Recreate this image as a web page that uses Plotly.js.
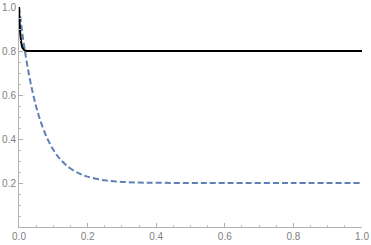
<!DOCTYPE html>
<html><head><meta charset="utf-8">
<script src="https://cdn.plot.ly/plotly-3.0.1.min.js"></script>
<style>body{margin:0;padding:0;background:#fff}#chart{width:371px;height:245px}</style>
</head><body><div id="chart"></div>
<script>
const blueX = [0, 0.01, 0.02, 0.03, 0.04, 0.05, 0.06, 0.08, 0.10, 0.12, 0.15, 0.18, 0.20, 0.25, 0.30, 0.35, 0.40, 0.50, 0.60, 0.80, 1.00];
const blueY = [1.0, 0.877, 0.773, 0.685, 0.611, 0.548, 0.494, 0.411, 0.351, 0.308, 0.266, 0.240, 0.229, 0.212, 0.205, 0.202, 0.201, 0.200, 0.200, 0.200, 0.200];
const blackX = [0, 0.002, 0.004, 0.006, 0.008, 0.010, 0.015, 0.020, 0.030, 1.00];
const blackY = [1.0, 0.921, 0.874, 0.845, 0.827, 0.816, 0.805, 0.801, 0.800, 0.800];
const xTickVals = [0, 0.2, 0.4, 0.6, 0.8, 1.0];
const xTickText = ["0.0", "0.2", "0.4", "0.6", "0.8", "1.0"];
const yTickVals = [0.2, 0.4, 0.6, 0.8, 1.0];
const yTickText = ["0.2", "0.4", "0.6", "0.8", "1.0"];

const axisCommon = {
  range: [0, 1], showgrid: false, zeroline: false, showline: true,
  linecolor: '#b0b0b0', linewidth: 1,
  ticks: 'inside', ticklen: 4, tickcolor: '#b0b0b0', tickwidth: 1,
  tickfont: {family: 'Liberation Sans, Arial, sans-serif', size: 10, color: '#808080'},
  minor: {dtick: 0.05, tick0: 0, ticks: 'inside', ticklen: 2, tickcolor: '#c0c0c0', tickwidth: 1},
  fixedrange: true
};

const data = [
  {x: blueX, y: blueY, mode: 'lines', line: {color: '#5e81b5', width: 2, dash: '6px,3px', shape: 'spline'}, cliponaxis: false, hoverinfo: 'skip'},
  {x: blackX, y: blackY, mode: 'lines', line: {color: '#000000', width: 2, shape: 'spline'}, cliponaxis: false, hoverinfo: 'skip'}
];
const layout = {
  width: 371, height: 245,
  margin: {l: 19, r: 9, t: 7, b: 18},
  paper_bgcolor: '#ffffff', plot_bgcolor: '#ffffff',
  showlegend: false,
  xaxis: Object.assign({}, axisCommon, {tickvals: xTickVals, ticktext: xTickText}),
  yaxis: Object.assign({}, axisCommon, {tickvals: yTickVals, ticktext: yTickText})
};
Plotly.newPlot('chart', data, layout, {displayModeBar: false, staticPlot: true});
</script></body></html>
